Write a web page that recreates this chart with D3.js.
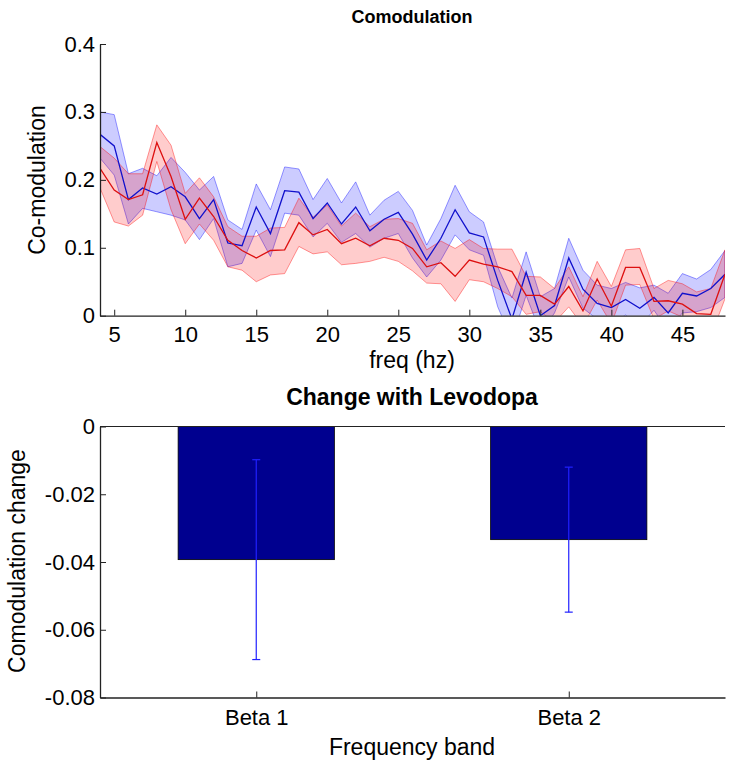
<!DOCTYPE html>
<html><head><meta charset="utf-8">
<script src="https://cdn.jsdelivr.net/npm/d3@7"></script>
<style>body{margin:0;background:#fff;} text{font-family:"Liberation Sans",Arial,sans-serif;}</style>
</head><body>
<script>
const freqs = d3.range(4, 49);
const blueMean = [0.267,0.250,0.171,0.188,0.179,0.190,0.175,0.143,0.171,0.107,0.103,0.160,0.121,0.184,0.182,0.143,0.166,0.135,0.160,0.125,0.142,0.152,0.120,0.082,0.114,0.156,0.122,0.116,0.052,-0.005,0.064,0.000,0.015,0.085,0.039,0.018,0.012,0.024,0.011,0.027,0.004,0.033,0.029,0.040,0.061];
const blueUpper = [0.300,0.296,0.209,0.217,0.206,0.233,0.211,0.185,0.205,0.141,0.127,0.194,0.156,0.219,0.216,0.171,0.202,0.166,0.197,0.148,0.170,0.183,0.155,0.104,0.143,0.192,0.153,0.138,0.072,0.026,0.094,0.028,0.040,0.114,0.067,0.045,0.040,0.049,0.041,0.045,0.033,0.062,0.054,0.068,0.096];
const blueLower = [0.232,0.207,0.135,0.158,0.153,0.148,0.141,0.112,0.143,0.072,0.077,0.126,0.087,0.151,0.148,0.116,0.136,0.108,0.121,0.101,0.114,0.121,0.085,0.057,0.082,0.119,0.097,0.089,0.013,-0.035,0.030,-0.025,0.004,0.057,0.011,-0.005,-0.012,0.001,-0.015,0.008,-0.022,0.004,0.006,0.012,0.027];
const redMean = [0.217,0.185,0.171,0.178,0.255,0.205,0.142,0.173,0.146,0.111,0.096,0.085,0.096,0.097,0.137,0.119,0.127,0.106,0.114,0.103,0.114,0.111,0.099,0.072,0.078,0.058,0.082,0.076,0.072,0.065,0.030,0.030,0.017,0.043,0.007,0.054,0.014,0.071,0.071,0.021,0.022,0.017,0.003,0.002,0.061];
const redUpper = [0.249,0.232,0.209,0.209,0.281,0.251,0.180,0.203,0.175,0.131,0.117,0.117,0.129,0.130,0.173,0.145,0.163,0.132,0.151,0.131,0.142,0.143,0.136,0.097,0.110,0.099,0.112,0.099,0.098,0.098,0.058,0.057,0.040,0.072,0.028,0.080,0.043,0.097,0.099,0.040,0.052,0.047,0.035,0.040,0.097];
const redLower = [0.188,0.138,0.132,0.148,0.227,0.156,0.106,0.135,0.111,0.072,0.067,0.050,0.060,0.062,0.102,0.091,0.094,0.075,0.077,0.080,0.086,0.080,0.066,0.048,0.047,0.021,0.053,0.050,0.040,0.028,0.002,0.006,-0.010,0.013,-0.015,0.023,-0.012,0.045,0.046,-0.005,0.007,-0.002,-0.025,-0.030,0.025];
const topXTicks = [5,10,15,20,25,30,35,40,45];
const topYTicks = [0,0.1,0.2,0.3,0.4];

const bands = ["Beta 1","Beta 2"];
const bandChange = [-0.0393,-0.0334];
const bandErr = [0.0295,0.0214];
const botYTicks = [0,-0.02,-0.04,-0.06,-0.08];

const W = 731, H = 767;
const svg = d3.select("body").append("svg").attr("width",W).attr("height",H);
const L = 100, R = 725;
const TICKFS = 22, LABFS = 23;

// ---- Top chart ----
const x1 = d3.scaleLinear().domain([4,48]).range([L,R]);
const y1 = d3.scaleLinear().domain([0,0.4]).range([315.7,44]);
svg.append("clipPath").attr("id","c1").append("rect")
  .attr("x",L).attr("y",44).attr("width",R-L).attr("height",315.7-44);
const g1 = svg.append("g").attr("clip-path","url(#c1)");
function band(up, lo, col){
  const area = d3.area().x((d,i)=>x1(freqs[i])).y0((d,i)=>y1(lo[i])).y1((d,i)=>y1(up[i]));
  g1.append("path").datum(up).attr("d",area).attr("fill",col).attr("fill-opacity",0.2)
    .attr("stroke",col).attr("stroke-opacity",0.4).attr("stroke-width",1);
}
function line(vals, col){
  const ln = d3.line().x((d,i)=>x1(freqs[i])).y(d=>y1(d));
  g1.append("path").datum(vals).attr("d",ln).attr("fill","none").attr("stroke",col).attr("stroke-width",1.3);
}
band(blueUpper, blueLower, "#0000ff");
band(redUpper, redLower, "#ff0000");
line(blueMean, "#1010cc");
line(redMean, "#dd1010");

function styleAxis(a){
  a.attr("font-size",null).attr("font-family",null);
  a.selectAll("text").attr("font-size",TICKFS).attr("fill","#000");
  a.select(".domain").attr("stroke","#222").attr("stroke-width",1.3);
  a.selectAll(".tick line").attr("stroke","#222");
}
const ax1x = svg.append("g").attr("transform",`translate(0,${y1(0)})`)
  .call(d3.axisBottom(x1).tickValues(topXTicks).tickSizeInner(-6).tickSizeOuter(0).tickPadding(11));
const ax1y = svg.append("g").attr("transform",`translate(${L},0)`)
  .call(d3.axisLeft(y1).tickValues(topYTicks).tickFormat(d=>d===0?"0":d3.format(".1f")(d)).tickSizeInner(-6).tickSizeOuter(0).tickPadding(5));
[ax1x,ax1y].forEach(styleAxis);
ax1x.selectAll("text").attr("dy","0.71em");

svg.append("text").attr("x",412).attr("y",23).attr("text-anchor","middle").attr("font-size",18).attr("font-weight","bold").text("Comodulation");
svg.append("text").attr("x",412).attr("y",368).attr("text-anchor","middle").attr("font-size",LABFS).text("freq (hz)");
svg.append("text").attr("transform","translate(45,180) rotate(-90)").attr("text-anchor","middle").attr("font-size",LABFS).text("Co-modulation");

// ---- Bottom chart ----
const x2 = d3.scaleLinear().domain([0.5,2.5]).range([L,R]);
const y2 = d3.scaleLinear().domain([-0.08,0]).range([697.5,426.5]);
const bw = x2(1.25)-x2(0.75);
svg.selectAll("rect.bar").data(bands).enter().append("rect").attr("class","bar")
  .attr("x",(d,i)=>x2(i+1)-bw/2).attr("width",bw)
  .attr("y",y2(0)).attr("height",(d,i)=>y2(bandChange[i])-y2(0))
  .attr("fill","#00008f").attr("stroke","#000").attr("stroke-width",0.8);
const eg = svg.append("g");
bands.forEach((b,i)=>{
  const cx = x2(i+1), top = y2(bandChange[i]+bandErr[i]), bot = y2(bandChange[i]-bandErr[i]);
  eg.append("line").attr("x1",cx).attr("x2",cx).attr("y1",top).attr("y2",bot).attr("stroke","#2020ff").attr("stroke-width",1.2);
  [top,bot].forEach(yy=>eg.append("line").attr("x1",cx-4).attr("x2",cx+4).attr("y1",yy).attr("y2",yy).attr("stroke","#2020ff").attr("stroke-width",1.2));
});
svg.append("line").attr("x1",L).attr("x2",R).attr("y1",y2(0)).attr("y2",y2(0)).attr("stroke","#222").attr("stroke-width",1.2);
const ax2x = svg.append("g").attr("transform",`translate(0,${y2(-0.08)})`)
  .call(d3.axisBottom(x2).tickValues([1,2]).tickFormat((d)=>bands[d-1]).tickSizeInner(-6).tickSizeOuter(0).tickPadding(12));
const ax2y = svg.append("g").attr("transform",`translate(${L},0)`)
  .call(d3.axisLeft(y2).tickValues(botYTicks).tickFormat(d=>d===0?"0":d3.format(".2f")(d).replace("−","-")).tickSizeInner(-6).tickSizeOuter(0).tickPadding(5));
[ax2x,ax2y].forEach(styleAxis);
ax2x.selectAll("text").attr("dy","0.71em");

svg.append("text").attr("x",412).attr("y",405).attr("text-anchor","middle").attr("font-size",23).attr("font-weight","bold").text("Change with Levodopa");
svg.append("text").attr("x",412).attr("y",755).attr("text-anchor","middle").attr("font-size",LABFS).text("Frequency band");
svg.append("text").attr("transform","translate(25,561) rotate(-90)").attr("text-anchor","middle").attr("font-size",LABFS).text("Comodulation change");
</script>
</body></html>
